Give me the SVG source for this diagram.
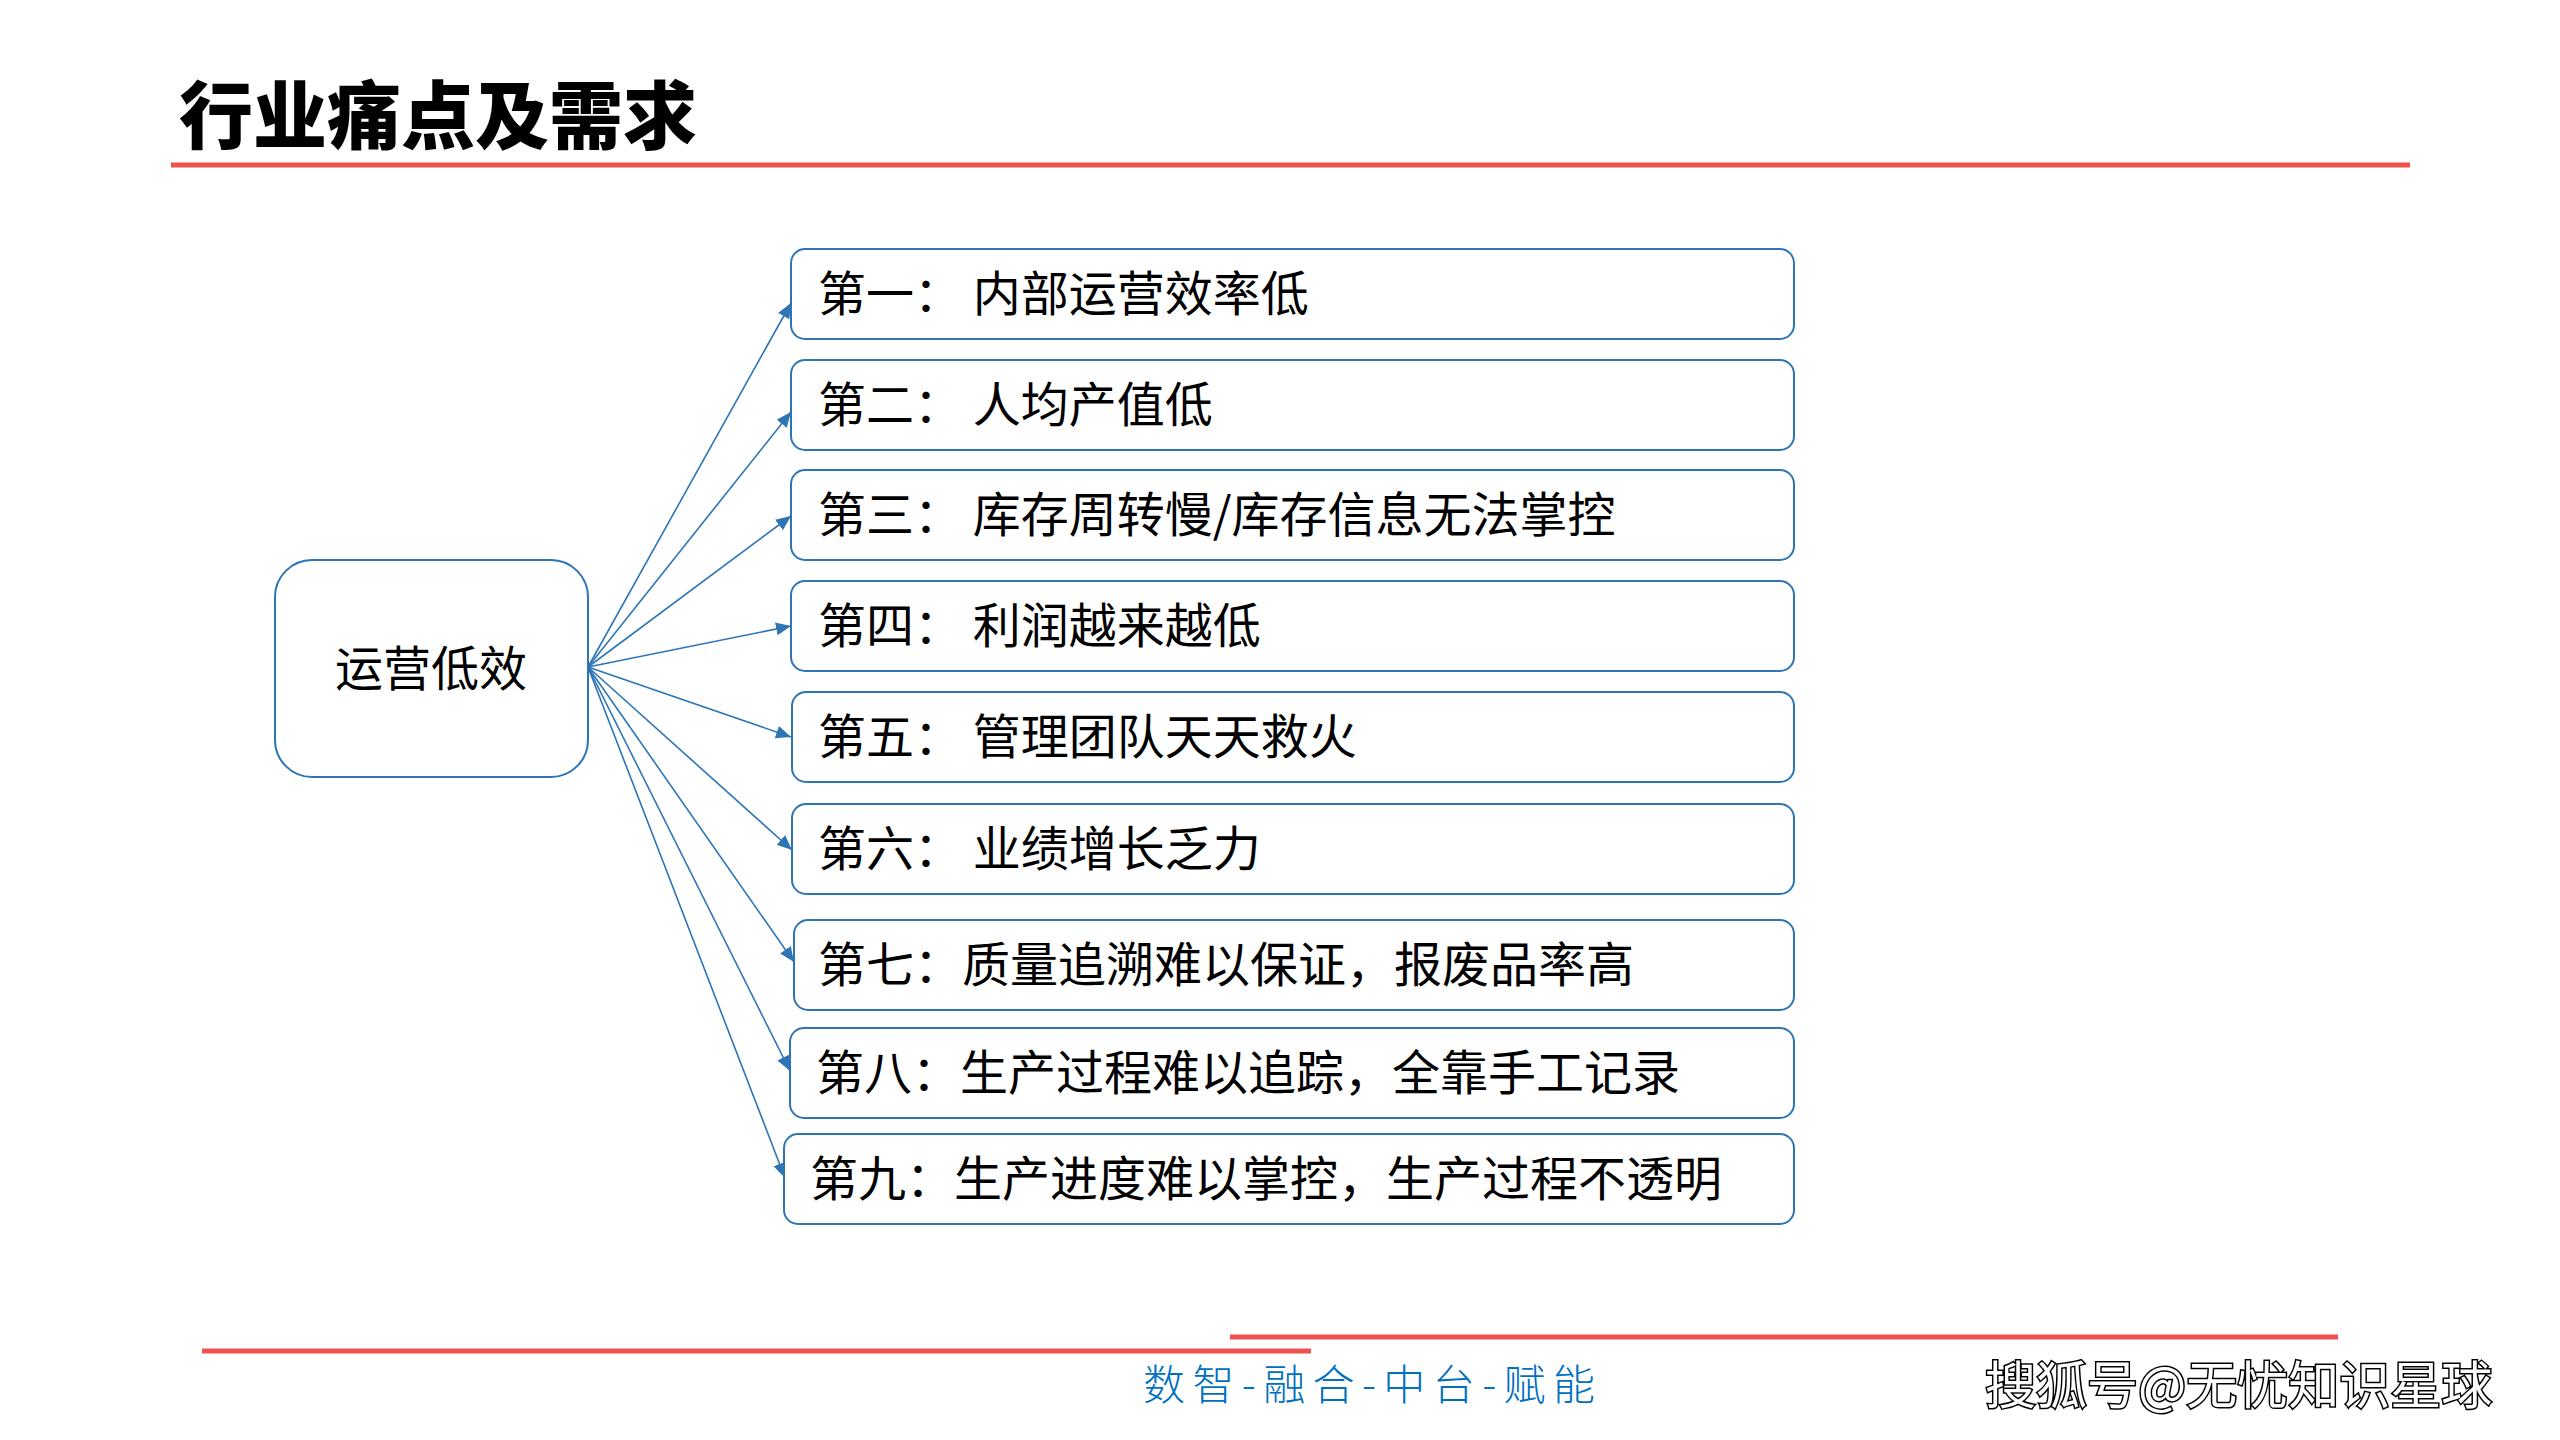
<svg xmlns="http://www.w3.org/2000/svg" width="2560" height="1440" viewBox="0 0 2560 1440">
<style>
.box{fill:#fff;stroke:#2E75B6;stroke-width:2}
.lbl{font-family:"Noto Sans CJK SC","Noto Sans CJK JP",sans-serif;font-size:48px;fill:#000}
.conn{stroke:#2E75B6;stroke-width:1.6;fill:none;marker-end:url(#arr)}
.red{stroke:#EE5350;stroke-width:5}
</style>
<defs>
<marker id="arr" markerUnits="userSpaceOnUse" markerWidth="16" markerHeight="14" refX="15" refY="6.5" orient="auto">
<path d="M0,0 L15,6.5 L0,13 Z" fill="#2E75B6"/>
</marker>
</defs>
<rect width="2560" height="1440" fill="#fff"/>
<g id="title">
<text x="179" y="143" font-family="'Noto Sans CJK SC',sans-serif" font-size="74" font-weight="900" fill="#000">行业痛点及需求</text>
<line x1="171" y1="165" x2="2410" y2="165" class="red"/>
</g>
<g id="connectors">
<line class="conn" x1="588" y1="667" x2="791" y2="303"/>
<line class="conn" x1="588" y1="667" x2="791" y2="412"/>
<line class="conn" x1="588" y1="667" x2="791" y2="516"/>
<line class="conn" x1="588" y1="667" x2="791" y2="626"/>
<line class="conn" x1="588" y1="667" x2="791" y2="737"/>
<line class="conn" x1="588" y1="667" x2="792" y2="850"/>
<line class="conn" x1="588" y1="667" x2="794" y2="962"/>
<line class="conn" x1="588" y1="667" x2="790" y2="1071"/>
<line class="conn" x1="588" y1="667" x2="785" y2="1178"/>
</g>
<g id="root">
<rect class="box" x="275" y="560" width="313" height="217" rx="37"/>
<text x="431" y="686" text-anchor="middle" class="lbl" font-size="47">运营低效</text>
</g>
<g id="n1"><rect class="box" x="791" y="249" width="1003" height="90" rx="14"/><text class="lbl" x="818" y="311">第一： 内部运营效率低</text></g>
<g id="n2"><rect class="box" x="791" y="360" width="1003" height="90" rx="14"/><text class="lbl" x="818" y="422">第二： 人均产值低</text></g>
<g id="n3"><rect class="box" x="791" y="470" width="1003" height="90" rx="14"/><text class="lbl" x="818" y="532">第三： 库存周转慢/库存信息无法掌控</text></g>
<g id="n4"><rect class="box" x="791" y="581" width="1003" height="90" rx="14"/><text class="lbl" x="818" y="643">第四： 利润越来越低</text></g>
<g id="n5"><rect class="box" x="792" y="692" width="1002" height="90" rx="14"/><text class="lbl" x="818" y="754">第五： 管理团队天天救火</text></g>
<g id="n6"><rect class="box" x="792" y="804" width="1002" height="90" rx="14"/><text class="lbl" x="818" y="866">第六： 业绩增长乏力</text></g>
<g id="n7"><rect class="box" x="794" y="920" width="1000" height="90" rx="14"/><text class="lbl" x="818" y="982">第七：质量追溯难以保证，报废品率高</text></g>
<g id="n8"><rect class="box" x="790" y="1028" width="1004" height="90" rx="14"/><text class="lbl" x="816" y="1090">第八：生产过程难以追踪，全靠手工记录</text></g>
<g id="n9"><rect class="box" x="784" y="1134" width="1010" height="90" rx="14"/><text class="lbl" x="810" y="1196">第九：生产进度难以掌控，生产过程不透明</text></g>
<g id="footer">
<line x1="202" y1="1351" x2="1311" y2="1351" class="red"/>
<line x1="1230" y1="1337" x2="2338" y2="1337" class="red"/>
<text x="1143" y="1400" font-family="'Noto Sans CJK SC',sans-serif" font-size="42" font-weight="300" letter-spacing="7.4" fill="#0070C0">数智-融合-中台-赋能</text>
<text x="1985" y="1404" font-family="'Noto Sans CJK SC',sans-serif" font-size="51" fill="#fff" stroke="#000" stroke-width="3" paint-order="stroke fill">搜狐号@无忧知识星球</text>
</g>
</svg>
